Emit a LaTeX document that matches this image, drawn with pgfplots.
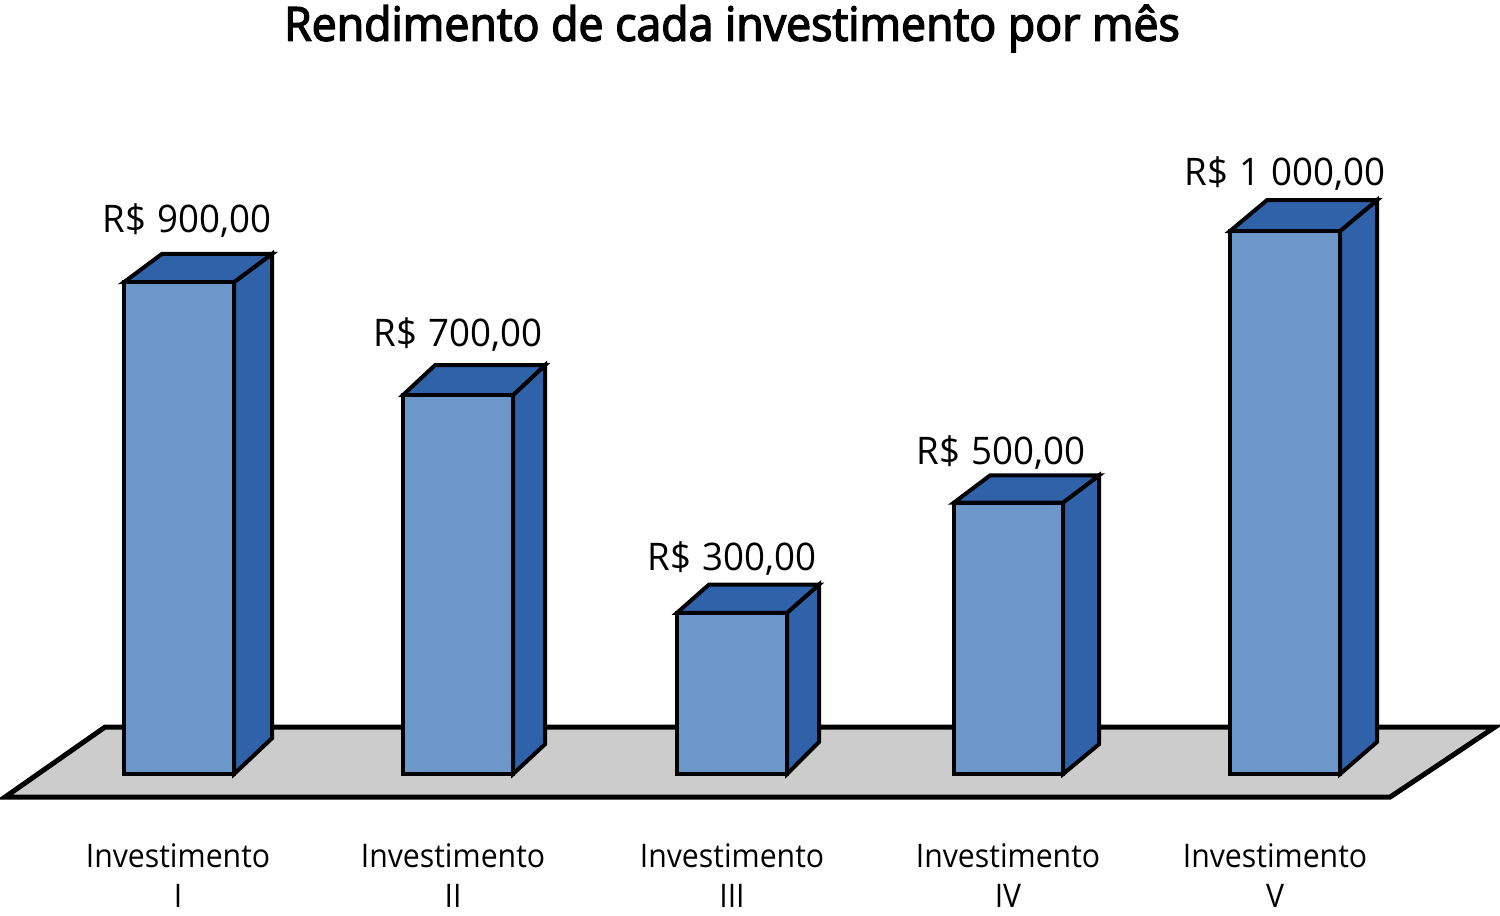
\documentclass[border=0pt]{standalone}
\usepackage{pgfplots}
\pgfplotsset{compat=1.18}
\usepackage{fontspec}
\setmainfont[FakeStretch=0.93]{Open Sans}
\newfontfamily\titlefont[FakeStretch=0.95,RawFeature={embolden=3}]{Open Sans}
\newfontfamily\valuefont[FakeStretch=0.965,WordSpace=1.15]{Open Sans}
\definecolor{frontc}{RGB}{108,151,203}
\definecolor{sidec}{RGB}{48,98,170}
\definecolor{floorc}{RGB}{204,204,204}
\begin{document}
\begin{tikzpicture}
\begin{axis}[
  scale only axis, width=1500pt, height=915pt,
  xmin=0, xmax=1500, ymin=-259.7, ymax=1425.4,
  clip=false,
  axis line style={draw=none},
  major tick length=0pt,
  ytick=\empty,
  xtick={178,453,732,1008,1275},
  xticklabels={{Investimento\\I},{Investimento\\II},{Investimento\\III},{Investimento\\IV},{Investimento\\V}},
  xticklabel style={align=center,font=\fontsize{32.5}{40}\selectfont,yshift=75pt},
  title={Rendimento de cada investimento por mês},
  every axis title shift/.style={yshift=0pt},
  title style={at={(axis description cs:0.488,0.949)},anchor=base,inner sep=0pt,font=\titlefont\fontsize{47}{50}\selectfont},
  every axis plot/.append style={line width=4pt,draw=black,line join=miter},
]
\addplot[fill=floorc,line width=5pt] coordinates {(5,-42.4) (105,86.6) (1495,86.6) (1390,-42.4)} --cycle;
% bar I
\addplot[fill=sidec] coordinates {(234,0) (234,906) (272,958) (272,66)} --cycle;
\addplot[fill=sidec] coordinates {(124,906) (234,906) (272,958) (162,958)} --cycle;
\addplot[fill=frontc] coordinates {(124,0) (124,906) (234,906) (234,0)} --cycle;
% bar II
\addplot[fill=sidec] coordinates {(513,0) (513,698) (545,753) (545,55)} --cycle;
\addplot[fill=sidec] coordinates {(403,698) (513,698) (545,753) (435,753)} --cycle;
\addplot[fill=frontc] coordinates {(403,0) (403,698) (513,698) (513,0)} --cycle;
% bar III
\addplot[fill=sidec] coordinates {(787,0) (787,297) (819,349) (819,59)} --cycle;
\addplot[fill=sidec] coordinates {(677,297) (787,297) (819,349) (709,349)} --cycle;
\addplot[fill=frontc] coordinates {(677,0) (677,297) (787,297) (787,0)} --cycle;
% bar IV
\addplot[fill=sidec] coordinates {(1063,0) (1063,500) (1099,550) (1099,55)} --cycle;
\addplot[fill=sidec] coordinates {(954,500) (1063,500) (1099,550) (990,550)} --cycle;
\addplot[fill=frontc] coordinates {(954,0) (954,500) (1063,500) (1063,0)} --cycle;
% bar V
\addplot[fill=sidec] coordinates {(1340,0) (1340,1000) (1377,1057) (1377,59)} --cycle;
\addplot[fill=sidec] coordinates {(1230,1000) (1340,1000) (1377,1057) (1267,1057)} --cycle;
\addplot[fill=frontc] coordinates {(1230,0) (1230,1000) (1340,1000) (1340,0)} --cycle;
\node[font=\valuefont\fontsize{38}{40}\selectfont] at (axis cs:187,1019) {R\$ 900,00};
\node[font=\valuefont\fontsize{38}{40}\selectfont] at (axis cs:458,810) {R\$ 700,00};
\node[font=\valuefont\fontsize{38}{40}\selectfont] at (axis cs:732,397) {R\$ 300,00};
\node[font=\valuefont\fontsize{38}{40}\selectfont] at (axis cs:1001,592) {R\$ 500,00};
\node[font=\valuefont\fontsize{38}{40}\selectfont] at (axis cs:1285,1106) {R\$ 1 000,00};
\end{axis}
\end{tikzpicture}
\end{document}
